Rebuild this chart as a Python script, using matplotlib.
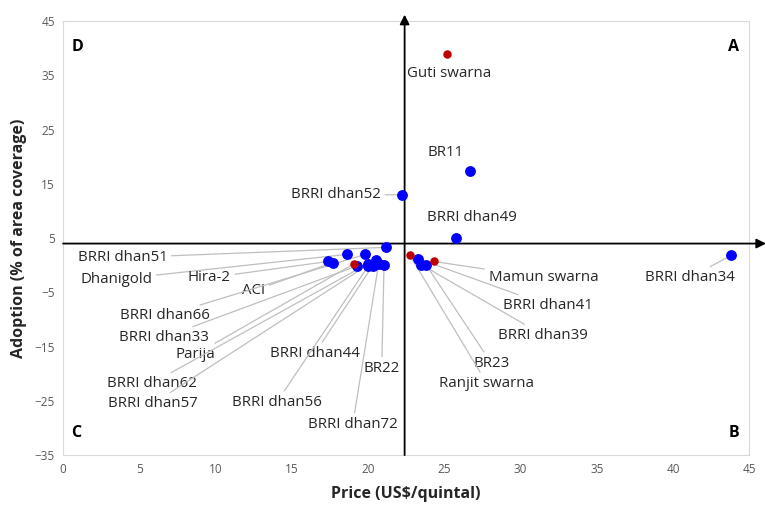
import matplotlib.pyplot as plt

plt.rcParams['font.family'] = ['Open Sans', 'DejaVu Sans']

# Varieties, price (US$/quintal) and adoption (% of area coverage)
names = ['Guti swarna', 'BR11', 'BRRI dhan52', 'BRRI dhan49', 'BRRI dhan34',
         'Mamun swarna', 'BRRI dhan41', 'BRRI dhan39', 'BR23', 'Ranjit swarna',
         'BRRI dhan51', 'Dhanigold', 'Hira-2', 'ACI', 'BRRI dhan66',
         'BRRI dhan33', 'Parija', 'BRRI dhan62', 'BRRI dhan57', 'BRRI dhan44',
         'BRRI dhan56', 'BR22', 'BRRI dhan72']
price = [25.2, 26.7, 22.2, 25.8, 43.8,
         24.3, 23.3, 23.5, 23.8, 22.75,
         21.2, 18.6, 17.4, 17.7, 19.8,
         19.3, 19.1, 20.0, 20.5, 20.3,
         20.0, 21.05, 20.7]
adoption = [39.0, 17.4, 13.0, 5.1, 1.8,
            0.7, 1.2, 0.1, 0.1, 1.8,
            3.3, 2.0, 0.7, 0.5, 2.0,
            -0.1, 0.3, 0.3, 1.0, -0.1,
            -0.2, 0.1, 0.3]
# 1 = indian variety (red), 0 = others (blue)
group = [1, 0, 0, 0, 0,
         1, 0, 0, 0, 1,
         0, 0, 0, 0, 0,
         0, 1, 0, 0, 0,
         0, 0, 0]

# label positions (data units)
label_pos = [(25.3, 35.3), (25.1, 20.8), (17.9, 13.0), (26.8, 8.8), (41.1, -2.3),
             (31.5, -2.3), (31.8, -7.4), (31.5, -12.9), (28.1, -18.1), (27.8, -21.8),
             (3.9, 1.4), (3.5, -2.6), (9.6, -2.3), (12.5, -4.7), (6.7, -9.3),
             (6.6, -13.3), (8.7, -16.4), (5.8, -21.8), (5.9, -25.5), (16.5, -16.3),
             (14.0, -25.3), (20.9, -19.0), (19.0, -29.3)]
# labels sitting right next to their point get no leader line
no_leader = ['Guti swarna', 'BR11', 'BRRI dhan49']

x_axis_at = 4
y_axis_at = 22.4

fig = plt.figure(figsize=(7.65, 5.16), dpi=100)
ax = fig.add_axes([0.0824, 0.118, 0.897, 0.841])
ax.set_xlim(0, 45)
ax.set_ylim(-35, 45)
ax.set_xticks(range(0, 46, 5))
ax.set_yticks(range(-35, 46, 10))
ax.tick_params(length=0, labelsize=8.5, labelcolor='#595959', pad=6)
for s in ax.spines.values():
    s.set_color('#d9d9d9')

# quadrant axes with arrows
ax.annotate('', xy=(46.1, x_axis_at), xytext=(0, x_axis_at),
            arrowprops=dict(arrowstyle='-|>', color='black', lw=1.3,
                            shrinkA=0, shrinkB=0, mutation_scale=14),
            annotation_clip=False)
ax.annotate('', xy=(y_axis_at, 46.2), xytext=(y_axis_at, -35),
            arrowprops=dict(arrowstyle='-|>', color='black', lw=1.3,
                            shrinkA=0, shrinkB=0, mutation_scale=14),
            annotation_clip=False)

# leader lines and labels
for i in range(len(names)):
    if names[i] in no_leader:
        ax.text(label_pos[i][0], label_pos[i][1], names[i], ha='center', va='center',
                fontsize=10.8, color='#262626', zorder=2)
    else:
        ax.annotate(names[i], xy=(price[i], adoption[i]), xytext=label_pos[i],
                    ha='center', va='center', fontsize=10.8, color='#262626',
                    arrowprops=dict(arrowstyle='-', color='#bfbfbf', lw=0.9,
                                    shrinkA=1, shrinkB=3), zorder=2)

for i in range(len(names)):
    if group[i] == 1:
        ax.scatter(price[i], adoption[i], s=26, color='#c00000', zorder=4)
    else:
        ax.scatter(price[i], adoption[i], s=46, color='#0000ff', zorder=3)

# quadrant letters
ax.text(0.012, 0.94, 'D', transform=ax.transAxes, fontsize=11.5, fontweight='bold', va='center')
ax.text(0.985, 0.94, 'A', transform=ax.transAxes, fontsize=11.5, fontweight='bold', va='center', ha='right')
ax.text(0.012, 0.05, 'C', transform=ax.transAxes, fontsize=11.5, fontweight='bold', va='center')
ax.text(0.985, 0.05, 'B', transform=ax.transAxes, fontsize=11.5, fontweight='bold', va='center', ha='right')

ax.set_xlabel('Price (US$/quintal)', fontsize=11.5, fontweight='bold', color='#262626', labelpad=7)
ax.set_ylabel('Adoption (% of area coverage)', fontsize=11.5, fontweight='bold', color='#262626', labelpad=5)

fig.savefig('out.png', dpi=100)
